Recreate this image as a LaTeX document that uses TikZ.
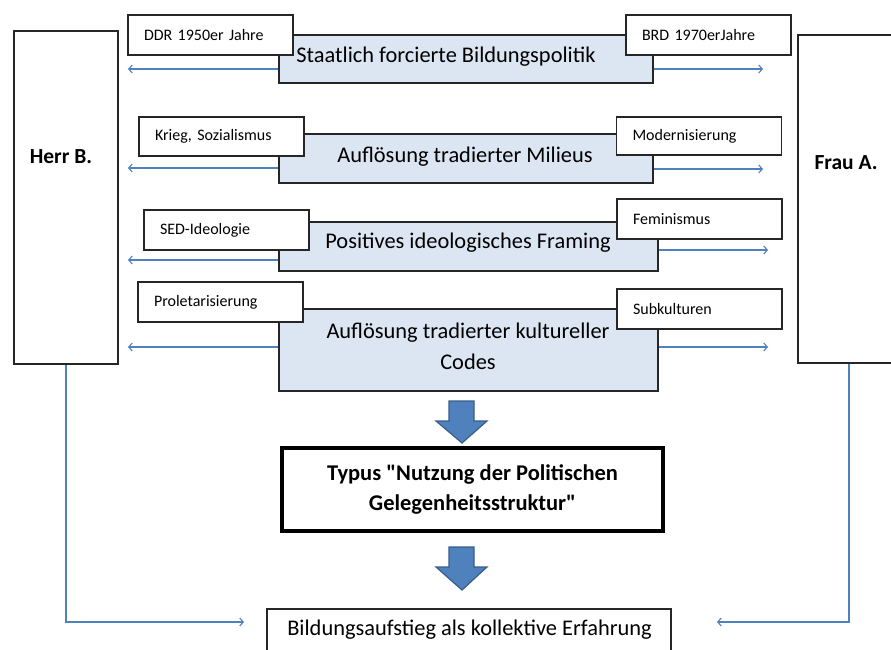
\documentclass[tikz,border=0pt]{standalone}
\usepackage{fontspec}
\setmainfont{Carlito}
\usetikzlibrary{arrows.meta}
\definecolor{boxfill}{HTML}{DCE6F2}
\definecolor{conncol}{HTML}{4F81BD}
\definecolor{arrowline}{HTML}{385D8A}
\definecolor{edge}{HTML}{262626}
\frenchspacing
\begin{document}
\begin{tikzpicture}[x=1pt,y=-1pt,
  box/.style={draw=edge, line width=1.6pt, inner sep=0pt},
  bluebox/.style={box, fill=boxfill, minimum width=#1},
  bluebox/.default=374pt,
  labelbox/.style={box, fill=white, minimum height=40pt, inner xsep=16pt, text width=133pt, align=left, font=\fontsize{16}{18}\selectfont},
  bigtext/.style={font=\fontsize{22.4}{31}\selectfont, align=center, inner sep=0pt},
  persontext/.style={font=\fontsize{21.5}{22}\selectfont\bfseries, inner sep=0pt},
  conn/.style={draw=conncol, line width=1.1pt, -{Straight Barb[length=3.5pt,width=8pt]}},
  blockarrow/.style={draw=arrowline, line width=1.2pt, fill=conncol}
]
\useasboundingbox (0,0) rectangle (891,650);
% person boxes
\node[box, minimum width=104pt, minimum height=333pt] (hb) at (66,197.5) {};
\node[persontext] (hbt) at (61,157) {Herr B.};
\node[box, minimum width=102pt, minimum height=328pt] (fa) at (849,199) {};
\node[persontext] (fat) at (846,163) {Frau A.};
% blue boxes
\node[bluebox, minimum height=48pt] (b1) at (466,59) {};
\node[bluebox, minimum height=49pt] (b2) at (466,158.5) {};
\node[bluebox=379pt, minimum height=49pt] (b3) at (468.5,246.5) {};
\node[bluebox=379pt, minimum height=82pt] (b4) at (468.5,350) {};
\node[bigtext] (t1) at (446,57) {Staatlich forcierte Bildungspolitik};
\node[bigtext] (t2) at (465,157) {Auflösung tradierter Milieus};
\node[bigtext] (t3) at (468,243) {Positives ideologisches Framing};
\node[bigtext] (t4) at (468,346.5) {Auflösung tradierter kultureller\\Codes};
% label boxes
\node[labelbox] (l1) at (210.5,35) {DDR 1950er Jahre};
\node[labelbox] (r1) at (708.5,35) {BRD 1970erJahre};
\node[labelbox, minimum height=39pt] (l2) at (221.5,136.5) {Krieg, Sozialismus};
\node[labelbox, minimum height=38pt] (r2) at (699,136) {Modernisierung};
\node[labelbox] (l3) at (226.5,230) {SED-Ideologie};
\node[labelbox] (r3) at (699.5,219) {Feminismus};
\node[labelbox] (l4) at (220.5,302) {Proletarisierung};
\node[labelbox] (r4) at (699.5,309) {Subkulturen};
% side arrows
\coordinate (la1) at (128,69);
\coordinate (la2) at (128,168);
\coordinate (la3) at (128,260);
\coordinate (la4) at (128,347);
\coordinate (ra1) at (763,69);
\coordinate (ra2) at (763,169);
\coordinate (ra3) at (768,250);
\coordinate (ra4) at (768,347);
\draw[conn] (b1.west |- la1) -- (la1);
\draw[conn] (b2.west |- la2) -- (la2);
\draw[conn] (b3.west |- la3) -- (la3);
\draw[conn] (b4.west |- la4) -- (la4);
\draw[conn] (b1.east |- ra1) -- (ra1);
\draw[conn] (b2.east |- ra2) -- (ra2);
\draw[conn] (b3.east |- ra3) -- (ra3);
\draw[conn] (b4.east |- ra4) -- (ra4);
% type box
\node[draw=black, line width=3.5pt, inner sep=0pt, minimum width=381pt, minimum height=83pt,
      font=\fontsize{22.5}{30}\selectfont\bfseries, align=center] (ty) at (472.5,489.5)
      {Typus \textquotedbl Nutzung der Politischen\\Gelegenheitsstruktur\textquotedbl};
% bottom box
\node[box, fill=white, minimum width=404pt, minimum height=56pt] (bo) at (469,637) {};
\node[bigtext] (bot) at (469.5,630) {Bildungsaufstieg als kollektive Erfahrung};
% block arrows
\draw[blockarrow] (449,401) -- (474,401) -- (474,421) -- (487,421) -- (462,443) -- (436,421) -- (449,421) -- cycle;
\draw[blockarrow] (449,547) -- (474,547) -- (474,567) -- (487,567) -- (462,590) -- (436,567) -- (449,567) -- cycle;
% bottom connectors
\coordinate (ea) at (244,622);
\coordinate (eb) at (717,622);
\draw[conn] (hb.south) |- (ea);
\draw[conn] (fa.south) |- (eb);
\end{tikzpicture}
\end{document}
